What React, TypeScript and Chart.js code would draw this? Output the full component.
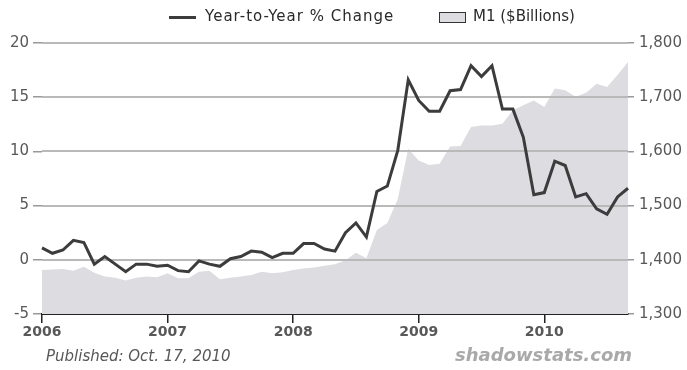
import React, { useEffect, useRef } from "react";
import { Chart, registerables } from "chart.js";

Chart.register(...registerables);

// Monthly observations, Jan 2006 through Sep 2010
const years = ["2006", "2007", "2008", "2009", "2010"];
const monthNames = ["Jan", "Feb", "Mar", "Apr", "May", "Jun", "Jul", "Aug", "Sep", "Oct", "Nov", "Dec"];
const lastMonthOf2010 = 9;

const categories: string[] = [];
years.forEach((yr, yi) => {
  const count = yi === years.length - 1 ? lastMonthOf2010 : 12;
  for (let m = 0; m < count; m++) categories.push(`${monthNames[m]} ${yr}`);
});

// Year-to-year % change in M1
const yoyChange = [
  1.1, 0.6, 0.9, 1.8, 1.6, -0.4, 0.3, -0.4, -1.1, -0.4, -0.4, -0.6,
  -0.5, -1.0, -1.1, -0.1, -0.4, -0.6, 0.1, 0.3, 0.8, 0.7, 0.2, 0.6,
  0.6, 1.5, 1.5, 1.0, 0.8, 2.5, 3.4, 2.1, 6.3, 6.8, 10.1, 16.6,
  14.7, 13.7, 13.7, 15.6, 15.7, 17.9, 16.9, 17.9, 13.9, 13.9, 11.3, 6.0,
  6.2, 9.1, 8.7, 5.8, 6.1, 4.7, 4.2, 5.8, 6.6,
];

// M1 money supply level, $ billions
const m1Billions = [
  1381, 1382, 1383, 1380, 1387, 1376, 1369, 1367, 1362, 1367, 1369, 1368,
  1375, 1366, 1366, 1378, 1380, 1364, 1367, 1369, 1372, 1378, 1375, 1377,
  1381, 1384, 1386, 1389, 1392, 1399, 1413, 1403, 1455, 1468, 1512, 1605,
  1583, 1575, 1577, 1609, 1610, 1645, 1648, 1648, 1651, 1676, 1685, 1694,
  1682, 1716, 1713, 1701, 1708, 1725, 1719, 1741, 1765,
];

const pctTicks = [20, 15, 10, 5, 0, -5];
const seriesLabels = ["Year-to-Year % Change", "M1 ($Billions)"];
const publishedNote = "Published: Oct. 17, 2010";
const sourceNote = "shadowstats.com";

const FONT = "'DejaVu Sans', sans-serif";
const LINE_COLOR = "#3c3c3c";
const AREA_COLOR = "#dcdce1";
const GRID_COLOR = "#b9b9b9";
const TEXT_COLOR = "#585858";

const decorPlugin = {
  id: "decor",
  afterDatasetDraw(chart: any, args: any) {
    // horizontal grid lines go over the M1 area but under the % line
    if (args.index !== 0) return;
    const { ctx, chartArea } = chart;
    const yScale = chart.scales.y;
    ctx.save();
    ctx.strokeStyle = GRID_COLOR;
    ctx.lineWidth = 2;
    pctTicks.forEach((v) => {
      if (v === yScale.min) return;
      const y = Math.round(yScale.getPixelForValue(v));
      ctx.beginPath();
      ctx.moveTo(chartArea.left, y);
      ctx.lineTo(chartArea.right, y);
      ctx.stroke();
    });
    ctx.restore();
  },
  afterDraw(chart: any) {
    const { ctx } = chart;
    ctx.save();
    // legend
    ctx.strokeStyle = LINE_COLOR;
    ctx.lineWidth = 3;
    ctx.beginPath();
    ctx.moveTo(169, 17.5);
    ctx.lineTo(196, 17.5);
    ctx.stroke();
    ctx.font = `15px ${FONT}`;
    ctx.fillStyle = "#2a2a2a";
    ctx.textBaseline = "middle";
    ctx.textAlign = "left";
    ctx.letterSpacing = "1px";
    ctx.fillText(seriesLabels[0], 205, 17.5);
    ctx.letterSpacing = "0px";
    ctx.fillStyle = AREA_COLOR;
    ctx.fillRect(439.5, 12.5, 26, 10);
    ctx.strokeStyle = "#333";
    ctx.lineWidth = 1;
    ctx.strokeRect(439.5, 12.5, 26, 10);
    ctx.fillStyle = "#2a2a2a";
    ctx.fillText(seriesLabels[1], 473, 17.5);
    // footer notes
    ctx.textBaseline = "alphabetic";
    ctx.font = `italic 15px ${FONT}`;
    ctx.fillStyle = TEXT_COLOR;
    ctx.fillText(publishedNote, 46, 361);
    ctx.font = `italic bold 18px ${FONT}`;
    ctx.fillStyle = "#a9a9a9";
    ctx.textAlign = "right";
    ctx.fillText(sourceNote, 632, 361);
    ctx.restore();
  },
};

export default function App() {
  const canvasRef = useRef<HTMLCanvasElement | null>(null);

  useEffect(() => {
    if (!canvasRef.current) return;
    const chart = new Chart(canvasRef.current, {
      type: "line",
      data: {
        labels: categories,
        datasets: [
          {
            label: seriesLabels[1],
            data: m1Billions,
            yAxisID: "y1",
            borderWidth: 0,
            borderColor: AREA_COLOR,
            backgroundColor: AREA_COLOR,
            fill: "start",
            pointRadius: 0,
            tension: 0,
            order: 2,
          },
          {
            label: seriesLabels[0],
            data: yoyChange,
            yAxisID: "y",
            borderWidth: 3,
            borderColor: LINE_COLOR,
            backgroundColor: LINE_COLOR,
            fill: false,
            pointRadius: 0,
            tension: 0,
            borderJoinStyle: "miter",
            order: 1,
          },
        ],
      },
      options: {
        animation: false,
        responsive: false,
        devicePixelRatio: 1,
        layout: { padding: { top: 43, left: 0, right: 0, bottom: 0 } },
        plugins: { legend: { display: false }, tooltip: { enabled: false } },
        scales: {
          x: {
            type: "category",
            offset: false,
            afterFit: (scale: any) => {
              scale.height = 56;
            },
            grid: {
              drawOnChartArea: false,
              drawTicks: true,
              tickLength: 9,
              lineWidth: 1.5,
              tickColor: (c: any) => (c.index % 12 === 0 ? "#222" : "rgba(0,0,0,0)"),
              color: "rgba(0,0,0,0)",
            },
            border: { display: true, color: "#222", width: 2 },
            ticks: {
              autoSkip: false,
              maxRotation: 0,
              minRotation: 0,
              padding: 1,
              color: TEXT_COLOR,
              font: { family: FONT, size: 14, weight: "bold" },
              callback: (_v: any, i: number) => (i % 12 === 0 ? years[i / 12] : ""),
            },
          },
          y: {
            position: "left",
            min: -5,
            max: 20,
            afterFit: (scale: any) => {
              scale.width = 42;
            },
            afterBuildTicks: (scale: any) => {
              scale.ticks = pctTicks.map((v) => ({ value: v }));
            },
            grid: {
              drawOnChartArea: false,
              drawTicks: true,
              tickLength: 9,
              lineWidth: 1.5,
              tickColor: "#999",
            },
            border: { display: false },
            ticks: {
              padding: 4,
              color: TEXT_COLOR,
              font: { family: FONT, size: 15 },
            },
          },
          y1: {
            position: "right",
            min: 1300,
            max: 1800,
            afterFit: (scale: any) => {
              scale.width = 59;
            },
            grid: {
              drawOnChartArea: false,
              drawTicks: true,
              tickLength: 6,
              lineWidth: 1.5,
              tickColor: "#999",
            },
            border: { display: false },
            ticks: {
              stepSize: 100,
              padding: 5,
              color: TEXT_COLOR,
              font: { family: FONT, size: 15 },
              callback: (v: any) => Number(v).toLocaleString("en-US"),
            },
          },
        },
      },
      plugins: [decorPlugin],
    } as any);
    return () => chart.destroy();
  }, []);

  return (
    <div style={{ position: "absolute", left: 0, top: 0, width: 687, height: 370, background: "#fff" }}>
      <canvas ref={canvasRef} width={687} height={370} style={{ display: "block" }} />
    </div>
  );
}
